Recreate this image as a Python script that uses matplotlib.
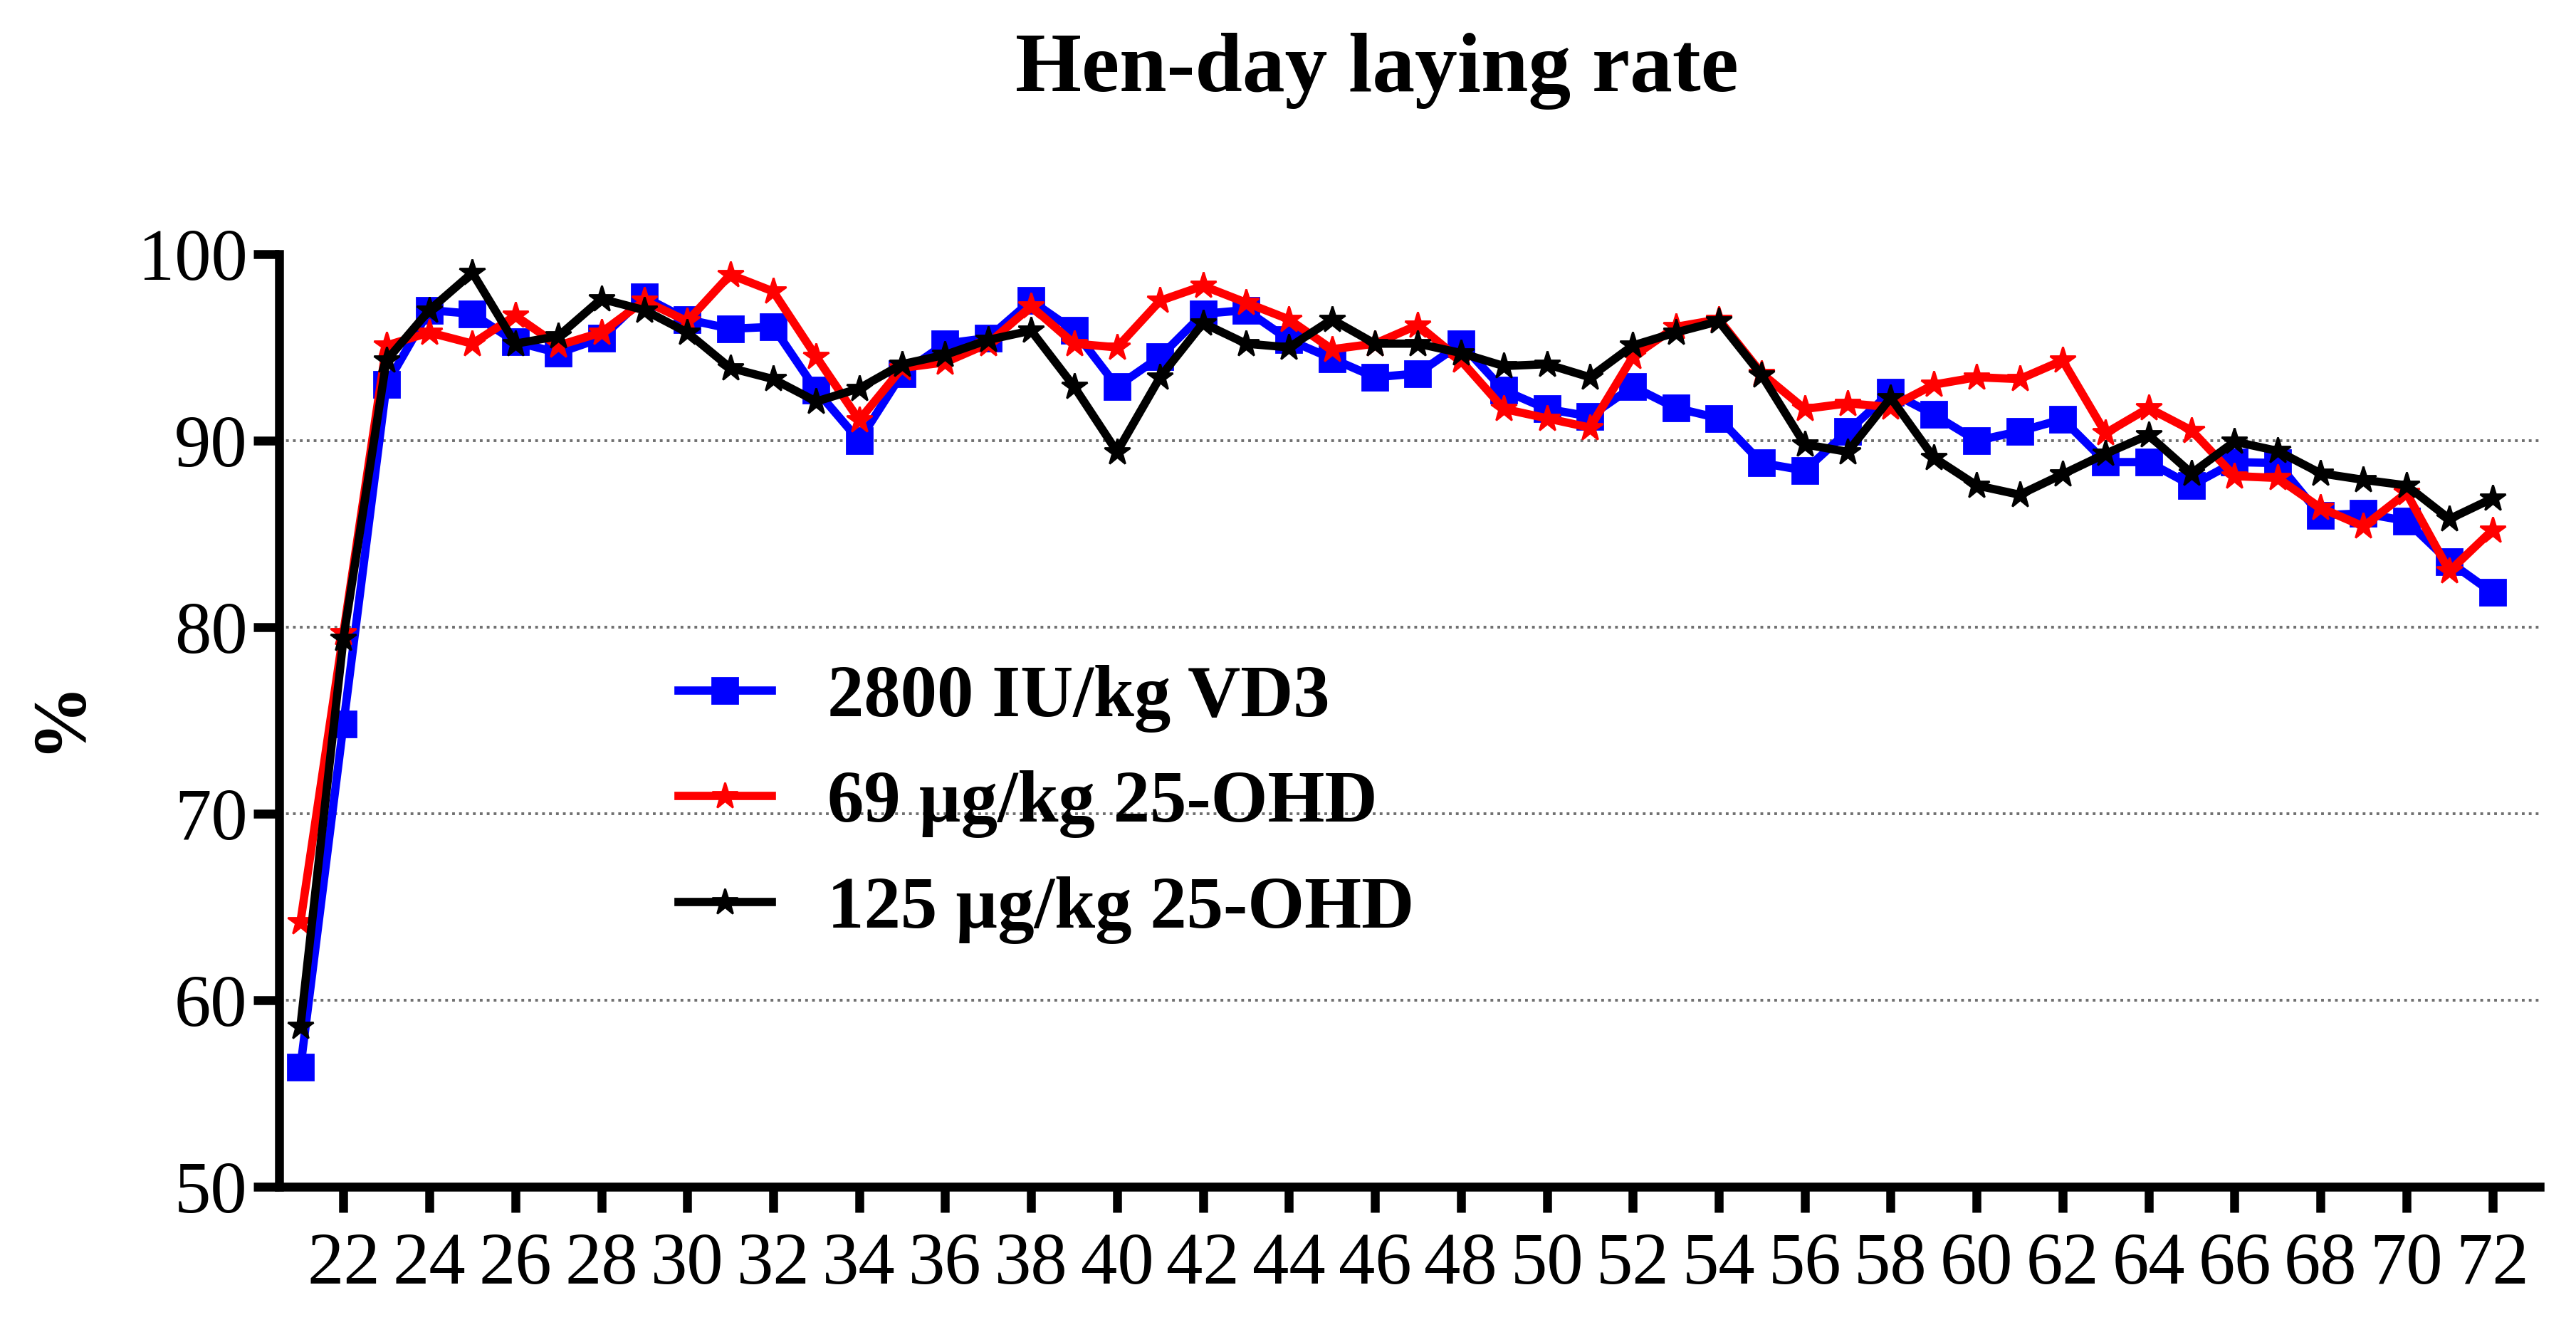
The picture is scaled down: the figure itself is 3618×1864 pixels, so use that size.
import matplotlib
matplotlib.use("Agg")
import matplotlib.pyplot as plt

weeks = list(range(21, 73))
xtick_vals = list(range(22, 73, 2))
ytick_vals = [50, 60, 70, 80, 90, 100]

labels = ["2800 IU/kg VD3", "69 \u00b5g/kg 25-OHD", "125 \u00b5g/kg 25-OHD"]

vd3 = [56.4, 74.8, 93.0, 97.0, 96.8, 95.3, 94.7, 95.5, 97.7, 96.5,
       96.0, 96.1, 92.7, 90.0, 93.6, 95.2, 95.5, 97.5, 95.9, 92.9,
       94.5, 96.8, 97.0, 95.4, 94.4, 93.4, 93.6, 95.2, 92.7, 91.7,
       91.3, 92.9, 91.75, 91.2, 88.8, 88.4, 90.5, 92.6, 91.4, 90.0,
       90.5, 91.15, 88.85, 88.85, 87.6, 88.85, 88.8, 86.0, 86.1, 85.7,
       83.5, 81.85]

ohd69 = [64.2, 79.7, 95.1, 95.8, 95.2, 96.7, 95.1, 95.8, 97.5, 96.4,
         98.9, 98.0, 94.5, 91.1, 93.9, 94.2, 95.2, 97.2, 95.2, 95.0,
         97.5, 98.3, 97.4, 96.5, 94.9, 95.2, 96.2, 94.3, 91.7, 91.2,
         90.7, 94.5, 96.1, 96.5, 93.6, 91.7, 92.0, 91.8, 93.0, 93.4,
         93.3, 94.3, 90.4, 91.75, 90.55, 88.1, 88.0, 86.4, 85.4, 87.2,
         83.0, 85.2]

ohd125 = [58.6, 79.4, 94.3, 97.0, 99.0, 95.2, 95.6, 97.6, 97.0, 95.8,
          93.9, 93.3, 92.1, 92.8, 94.1, 94.6, 95.4, 95.9, 92.9, 89.4,
          93.4, 96.3, 95.2, 95.0, 96.5, 95.2, 95.2, 94.7, 94.0, 94.1,
          93.4, 95.1, 95.8, 96.4, 93.5, 89.8, 89.4, 92.3, 89.1, 87.6,
          87.1, 88.2, 89.3, 90.3, 88.25, 89.95, 89.45, 88.25, 87.9, 87.6,
          85.8, 86.9]

plt.rcParams['font.family'] = ['Liberation Serif', 'DejaVu Serif']

fig = plt.figure(figsize=(18.09, 9.32), dpi=200)
ax = fig.add_axes([0.1083, 0.1057, 0.8776, 0.7028])

lw = 4.2
ax.plot(weeks, vd3, color='#0000FF', lw=lw, marker='s', markersize=13,
        label=labels[0], zorder=3, clip_on=False)
ax.plot(weeks, ohd69, color='#FF0000', lw=lw, marker='*', markersize=14,
        label=labels[1], zorder=4, clip_on=False)
ax.plot(weeks, ohd125, color='#000000', lw=lw, marker='*', markersize=14,
        label=labels[2], zorder=5, clip_on=False)

ax.set_xlim(20.5, 73.1)
ax.set_ylim(50, 100)
ax.set_xticks(xtick_vals)
ax.set_xticklabels([str(v) for v in xtick_vals])
ax.set_yticks(ytick_vals)
ax.set_yticklabels([str(v) for v in ytick_vals])

for v in ytick_vals[1:-1]:
    ax.axhline(v, color='#707070', lw=1.4, linestyle=(0, (1, 1.5)), zorder=1)

for s in ['top', 'right']:
    ax.spines[s].set_visible(False)
for s in ['left', 'bottom']:
    ax.spines[s].set_linewidth(4.5)
ax.tick_params(axis='both', direction='out', width=4.5, length=13,
               labelsize=37)
ax.tick_params(axis='y', pad=3)
ax.tick_params(axis='x', pad=10)

fig.text(0.0235, 0.461, '%', fontsize=38, fontweight='bold', rotation=90,
         ha='center', va='center')

fig.text(0.5346, 0.9313, 'Hen-day laying rate', fontsize=43,
         fontweight='bold', ha='center', va='baseline')

leg = ax.legend(loc='center left', bbox_to_anchor=(0.2634, 0.394),
                bbox_transform=fig.transFigure, frameon=False,
                prop={'size': 37, 'weight': 'bold'}, handlelength=1.27,
                handletextpad=0.76, labelspacing=0.52, borderpad=0,
                borderaxespad=0, numpoints=1)

fig.savefig('out.png', dpi=200)
